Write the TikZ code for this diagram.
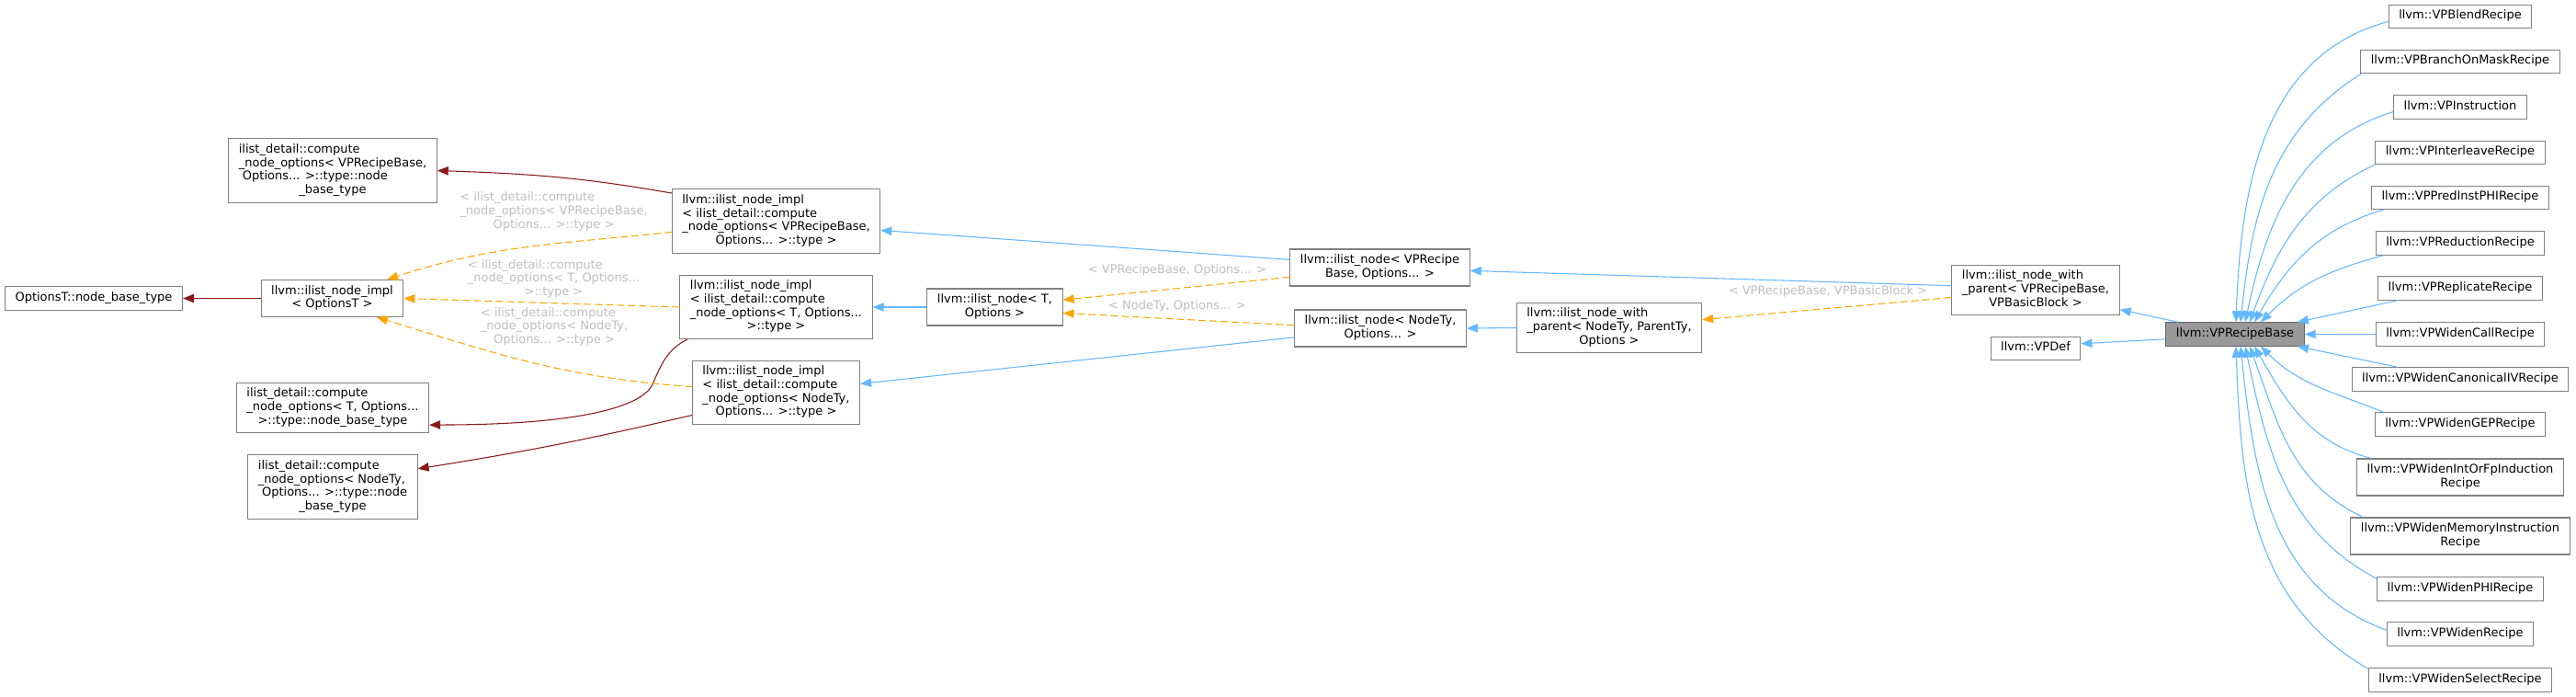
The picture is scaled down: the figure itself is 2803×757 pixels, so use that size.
\documentclass[tikz,border=0pt]{standalone}
\usepackage{fontspec}
\setmainfont{DejaVu Sans}
\usepackage{xcolor}
\usetikzlibrary{arrows.meta}
\usetikzlibrary{math}
\definecolor{pubblue}{RGB}{99,184,255}
\definecolor{privred}{RGB}{139,26,26}
\definecolor{tmplorange}{RGB}{255,165,0}
\definecolor{lblgrey}{RGB}{190,190,190}
\definecolor{boxgrey}{RGB}{128,128,128}
\definecolor{basefill}{RGB}{153,153,153}
\newcommand{\lns}[1]{\begin{tabular}{@{}l@{}}#1\end{tabular}}
\newcommand{\cns}[1]{\begin{tabular}{@{}c@{}}#1\end{tabular}}
\newcommand{\lastc}[1]{\multicolumn{1}{@{}c@{}}{#1}}

\begin{document}
\begin{tikzpicture}[x=0.75pt,y=-0.75pt,
  cls/.style={draw=boxgrey,line width=0.8pt,fill=white,inner xsep=8.3pt,inner ysep=4pt,font=\fontsize{9.75pt}{11pt}\selectfont},
  focus/.style={cls,fill=basefill,draw=black!60},
  pub/.style={pubblue,line width=0.8pt,-{Triangle[length=9pt,width=7pt]}},
  priv/.style={privred,line width=0.8pt,-{Triangle[length=9pt,width=7pt]}},
  tmpl/.style={tmplorange,line width=0.8pt,dash pattern=on 6pt off 3pt,-{Triangle[length=9pt,width=7pt]}},
  lbl/.style={text=lblgrey,inner sep=0pt,font=\fontsize{9.75pt}{11pt}\selectfont}]
\tikzmath{
\kidx=2677;%column of derived recipes
}
\useasboundingbox (0,0) rectangle (2803,757);

% base side
\node[cls] (optbase) at (102,324.5) {\cns{OptionsT::node\_base\_type}};
\node[cls] (implopt) at (361.5,324.5) {\cns{llvm::ilist\_node\_impl\\< OptionsT >}};
\node[cls] (cnoVP) at (362,185.5) {\lns{ilist\_detail::compute\\\_node\_options< VPRecipeBase,\\\ Options... >::type::node\\\lastc{\_base\_type}}};
\node[cls] (cnoT) at (362,443.5) {\lns{ilist\_detail::compute\\\_node\_options< T, Options...\\\lastc{>::type::node\_base\_type}}};
\node[cls] (cnoNT) at (362,529.5) {\lns{ilist\_detail::compute\\\_node\_options< NodeTy,\\\ Options... >::type::node\\\lastc{\_base\_type}}};

\node[cls] (implVP) at (844.5,240.5) {\lns{llvm::ilist\_node\_impl\\< ilist\_detail::compute\\\_node\_options< VPRecipeBase,\\\lastc{Options... >::type >}}};
\node[cls] (implT) at (844.5,334) {\lns{llvm::ilist\_node\_impl\\< ilist\_detail::compute\\\_node\_options< T, Options...\\\lastc{>::type >}}};
\node[cls] (implNT) at (844.5,427) {\lns{llvm::ilist\_node\_impl\\< ilist\_detail::compute\\\_node\_options< NodeTy,\\\lastc{Options... >::type >}}};

\node[cls] (nodeT) at (1082.5,334) {\cns{llvm::ilist\_node< T,\\Options >}};
\node[cls] (nodeVP) at (1501.5,291) {\cns{llvm::ilist\_node< VPRecipe\\Base, Options... >}};
\node[cls] (nodeNT) at (1502,357) {\cns{llvm::ilist\_node< NodeTy,\\Options... >}};
\node[cls] (wpNT) at (1751,356.5) {\lns{llvm::ilist\_node\_with\\\_parent< NodeTy, ParentTy,\\\lastc{Options >}}};
\node[cls] (wpVP) at (2215,315.5) {\lns{llvm::ilist\_node\_with\\\_parent< VPRecipeBase,\\\lastc{VPBasicBlock >}}};
\node[cls] (vpdef) at (2215,379) {\cns{llvm::VPDef}};
\node[focus] (recipe) at (2432,363.5) {\cns{llvm::VPRecipeBase}};

% derived recipes
\node[cls] (blend) at (\kidx,18) {\cns{llvm::VPBlendRecipe}};
\node[cls] (branch) at (\kidx,67) {\cns{llvm::VPBranchOnMaskRecipe}};
\node[cls] (instr) at (\kidx,116.5) {\cns{llvm::VPInstruction}};
\node[cls] (interleave) at (\kidx,166) {\cns{llvm::VPInterleaveRecipe}};
\node[cls] (predphi) at (\kidx,215) {\cns{llvm::VPPredInstPHIRecipe}};
\node[cls] (reduction) at (\kidx,264.5) {\cns{llvm::VPReductionRecipe}};
\node[cls] (replicate) at (\kidx,313.5) {\cns{llvm::VPReplicateRecipe}};
\node[cls] (call) at (\kidx,363.5) {\cns{llvm::VPWidenCallRecipe}};
\node[cls] (caniv) at (\kidx,412.5) {\cns{llvm::VPWidenCanonicalIVRecipe}};
\node[cls] (gep) at (\kidx,461.5) {\cns{llvm::VPWidenGEPRecipe}};
\node[cls] (intfp) at (\kidx,519) {\cns{llvm::VPWidenIntOrFpInduction\\Recipe}};
\node[cls] (meminst) at (\kidx,583) {\cns{llvm::VPWidenMemoryInstruction\\Recipe}};
\node[cls] (widenphi) at (\kidx,640.5) {\cns{llvm::VPWidenPHIRecipe}};
\node[cls] (widen) at (\kidx,689.5) {\cns{llvm::VPWidenRecipe}};
\node[cls] (select) at (\kidx,739.5) {\cns{llvm::VPWidenSelectRecipe}};

% private bases
\draw[priv] (implopt.west) -- (optbase.east);
\draw[priv] (implVP.165) to[out=170,in=-2] (cnoVP.east);
\draw[priv] (implT.200) .. controls (725,380) and (718,400) .. (710,418) .. controls (700,440) and (640,462) .. (cnoT.-10);
\draw[priv] (implNT.195) to[out=193,in=9] (cnoNT.12);

% template instances
\draw[tmpl] (implVP.186) to[out=186,in=18] (implopt.19);
\draw[tmpl] (implT.west) -- (implopt.east);
\draw[tmpl] (implNT.176) to[out=176,in=-17] (implopt.-23);
\node[lbl] (tVP) at (602.5,230.7) {\lns{< ilist\_detail::compute\\\_node\_options< VPRecipeBase,\\\lastc{Options... >::type >}}};
\node[lbl] (tT) at (602.5,304) {\lns{< ilist\_detail::compute\\\_node\_options< T, Options...\\\lastc{>::type >}}};
\node[lbl] (tNT) at (603,356) {\lns{< ilist\_detail::compute\\\_node\_options< NodeTy,\\\lastc{Options... >::type >}}};

\draw[pub] (nodeVP.175) -- (implVP.-5);
\draw[pub] (nodeT.west) -- (implT.east);
\draw[pub] (nodeNT.186) -- (implNT.6);
\draw[tmpl] (nodeVP.186) -- (nodeT.6);
\draw[tmpl] (nodeNT.178) -- (nodeT.-5);
\node[lbl] (tnodeVP) at (1281,294) {< VPRecipeBase, Options... >};
\node[lbl] (tnodeNT) at (1281,333) {< NodeTy, Options... >};

\draw[pub] (wpVP.177) -- (nodeVP.-2);
\draw[pub] (wpNT.west) -- (nodeNT.east);
\draw[tmpl] (wpVP.185) -- (wpNT.5);
\node[lbl] (twp) at (1989,317) {< VPRecipeBase, VPBasicBlock >};

\draw[pub] (recipe.168) -- (wpVP.-13);
\draw[pub] (recipe.184) -- (vpdef.6);

% recipes into VPRecipeBase
\draw[pub] (blend.184) to[out=195,in=88] ([xshift=0.75pt]recipe.north);
\draw[pub] (branch.187) to[out=212,in=84] ([xshift=4.5pt]recipe.north);
\draw[pub] (instr.184) to[out=197,in=78] ([xshift=8.25pt]recipe.north);
\draw[pub] (interleave.188) to[out=205,in=70] ([xshift=12pt]recipe.north);
\draw[pub] (predphi.189) to[out=196,in=60] ([xshift=15.75pt]recipe.north);
\draw[pub] (reduction.189) to[out=195,in=45] ([xshift=21pt]recipe.north);
\draw[pub] (replicate.191) -- (recipe.11);
\draw[pub] (call.west) -- (recipe.east);
\draw[pub] (caniv.169) -- (recipe.-11);
\draw[pub] (gep.171) to[out=158,in=-45] ([xshift=21pt]recipe.south);
\draw[pub] (intfp.168) to[out=166,in=-60] ([xshift=15.75pt]recipe.south);
\draw[pub] (meminst.169) to[out=155,in=-70] ([xshift=12pt]recipe.south);
\draw[pub] (widenphi.173) to[out=152,in=-78] ([xshift=8.25pt]recipe.south);
\draw[pub] (widen.177) to[out=160,in=-84] ([xshift=4.5pt]recipe.south);
\draw[pub] (select.173) to[out=150,in=-88] ([xshift=0.75pt]recipe.south);
\end{tikzpicture}
\end{document}
